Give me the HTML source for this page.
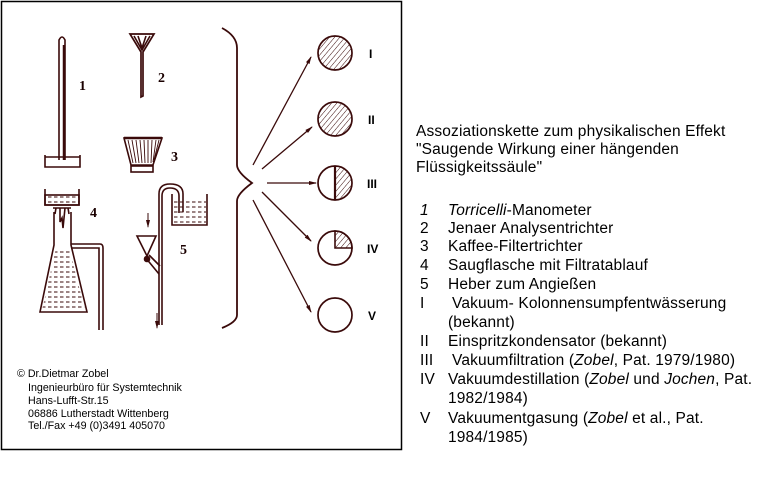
<!DOCTYPE html>
<html><head><meta charset="utf-8"><style>
html,body{margin:0;padding:0;background:#fff;width:769px;height:492px;overflow:hidden}
body{position:relative;font-family:"Liberation Sans",sans-serif}
.t{position:absolute;font-size:15.5px;letter-spacing:0.15px;line-height:18px;color:#000;white-space:nowrap}
.s{position:absolute;font-size:10.7px;line-height:12px;color:#000;white-space:nowrap}
</style></head><body>
<svg width="769" height="492" style="position:absolute;left:0;top:0" xmlns="http://www.w3.org/2000/svg">
<defs>
<pattern id="h" width="4" height="4" patternUnits="userSpaceOnUse" patternTransform="rotate(40)">
<line x1="0" y1="0" x2="0" y2="4" stroke="#3a0a0a" stroke-width="1"/></pattern>
<pattern id="d" width="6" height="5" patternUnits="userSpaceOnUse">
<line x1="0" y1="2" x2="3.5" y2="2" stroke="#3a0a0a" stroke-width="1"/></pattern>
<marker id="a" markerWidth="8" markerHeight="6" refX="7" refY="3" orient="auto" markerUnits="userSpaceOnUse">
<path d="M0,1 L8,3 L0,5z" fill="#3a0a0a"/></marker>
</defs>
<rect x="1.5" y="1.5" width="400" height="448" fill="none" stroke="#000" stroke-width="1.5"/>
<g stroke="#3a0a0a" fill="none" stroke-width="1.6">
<!-- 1 thermometer -->
<path d="M59,160 V40 Q62,34 65,40 V160"/>
<line x1="64" y1="45" x2="64" y2="160" stroke-width="2.5"/>
<path d="M45,155 V167 H80 V155 M45,157 H80"/>
<!-- 2 funnel -->
<path d="M130,34 H154 L143,52 V96 L141,97 V52 Z" stroke-width="1.7"/>
<path d="M134,36 L142,50 L150,36 M138,36 L142,48 L146,36"/>
<!-- 3 filter -->
<path d="M124,138 H162 L153,165 H131 Z"/>
<path d="M128,140 L133,163 M132,140 L136,163 M136,140 L139,163 M140,140 L142,163 M144,140 L145,163 M148,140 L148,163 M152,140 L151,163 M156,140 L153,162 M159,140 L154,160" stroke-width="0.9"/>
<rect x="131" y="166" width="22" height="6"/>
<line x1="124" y1="138" x2="162" y2="138" stroke-width="2.5"/>
<!-- brace -->
<path d="M222,28 Q237,36 237,48 V165 Q237,172 252,183 Q237,194 237,201 V315 Q237,322 222,328" stroke-width="1.8"/>
<!-- arrows -->
<g marker-end="url(#a)" stroke-width="1.3">
<line x1="253" y1="165" x2="311" y2="57"/>
<line x1="262" y1="169" x2="312" y2="127"/>
<line x1="267" y1="183" x2="316" y2="183"/>
<line x1="262" y1="192" x2="311" y2="241"/>
<line x1="253" y1="200" x2="311" y2="312"/>
</g>
<!-- circles -->
<circle cx="335" cy="53" r="17" fill="url(#h)" stroke-width="1.7"/>
<circle cx="335" cy="119" r="17" fill="url(#h)" stroke-width="1.7"/>
<path d="M335,166 A17,17 0 0 1 335,200 Z" fill="url(#h)" stroke="none"/>
<circle cx="335" cy="183" r="17" stroke-width="1.7"/>
<line x1="335" y1="166" x2="335" y2="200" stroke-width="2.2"/>
<path d="M335,231 A17,17 0 0 1 352,248 H335 Z" fill="url(#h)"/>
<circle cx="335" cy="248" r="17" stroke-width="1.7"/>
<circle cx="335" cy="315" r="17" stroke-width="1.7"/>
<!-- 4 flask -->
<rect x="45" y="195" width="34" height="10" fill="url(#d)"/>
<path d="M45,189 V205 H79 V189"/>
<path d="M53,208 H71 M54,212 V245 L40,312 H87 L71,245 V212 M56,208 L55,214 M68,208 L69,214"/>
<path d="M60,208 V222 L62,218 L63,228 L65,208" />
<path d="M56,248 H69 L85,310 H42 Z" fill="url(#d)" stroke="none"/>
<path d="M71,244 H100 Q103,244 103,248 V330 M71,248 H99 V330" />
<!-- 5 siphon -->
<path d="M159,325 V194 Q159,184 170,184 Q183,184 183,194 V212 M162,325 V196 Q162,188 170,188 Q179,188 179,196 V213"/>
<path d="M172,194 V225 H207 V194"/>
<rect x="173" y="199" width="33" height="25" fill="url(#d)" stroke="none"/>
<path d="M137,236 H156 L147,256 Z"/>
<path d="M145,257 L159,274 M149,255 L160,266"/>
<circle cx="147" cy="259" r="2.5" fill="#3a0a0a"/>
<line x1="148" y1="213" x2="148" y2="227" marker-end="url(#a)" stroke-width="1"/>
<line x1="157" y1="313" x2="157" y2="328" marker-end="url(#a)" stroke-width="1"/>
</g>
<g font-family="Liberation Serif,serif" font-weight="bold" font-size="14" fill="#1a0000">
<text x="79" y="90">1</text><text x="158" y="82">2</text><text x="171" y="161">3</text>
<text x="90" y="217">4</text><text x="180" y="254">5</text>
</g>
<g font-family="Liberation Sans,sans-serif" font-weight="bold" font-size="12" fill="#000">
<text x="369" y="58">I</text><text x="368" y="124">II</text><text x="367" y="188">III</text>
<text x="367" y="253">IV</text><text x="368" y="320">V</text>
</g>
</svg>
<div class="s" style="left:17px;top:368px">© Dr.Dietmar Zobel</div>
<div class="s" style="left:28px;top:382px">Ingenieurbüro für Systemtechnik</div>
<div class="s" style="left:28px;top:395px">Hans-Lufft-Str.15</div>
<div class="s" style="left:28px;top:408px">06886 Lutherstadt Wittenberg</div>
<div class="s" style="left:28px;top:420px">Tel./Fax +49 (0)3491 405070</div>

<div class="t" style="left:416px;top:123px">Assoziationskette zum physikalischen Effekt</div>
<div class="t" style="left:416px;top:141px">"Saugende Wirkung einer hängenden</div>
<div class="t" style="left:416px;top:159px">Flüssigkeitssäule"</div>
<div class="t" style="left:420px;top:202px"><i>1</i></div><div class="t" style="left:448px;top:202px"><i>Torricelli</i>-Manometer</div>
<div class="t" style="left:420px;top:220px">2</div><div class="t" style="left:448px;top:220px">Jenaer Analysentrichter</div>
<div class="t" style="left:420px;top:238px">3</div><div class="t" style="left:448px;top:238px">Kaffee-Filtertrichter</div>
<div class="t" style="left:420px;top:257px">4</div><div class="t" style="left:448px;top:257px">Saugflasche mit Filtratablauf</div>
<div class="t" style="left:420px;top:276px">5</div><div class="t" style="left:448px;top:276px">Heber zum Angießen</div>
<div class="t" style="left:420px;top:295px">I</div><div class="t" style="left:452px;top:295px">Vakuum- Kolonnensumpfentwässerung</div>
<div class="t" style="left:448px;top:314px">(bekannt)</div>
<div class="t" style="left:420px;top:333px">II</div><div class="t" style="left:448px;top:333px">Einspritzkondensator (bekannt)</div>
<div class="t" style="left:420px;top:352px">III</div><div class="t" style="left:452px;top:352px">Vakuumfiltration (<i>Zobel</i>, Pat. 1979/1980)</div>
<div class="t" style="left:420px;top:371px">IV</div><div class="t" style="left:448px;top:371px">Vakuumdestillation (<i>Zobel</i> und <i>Jochen</i>, Pat.</div>
<div class="t" style="left:448px;top:390px">1982/1984)</div>
<div class="t" style="left:420px;top:410px">V</div><div class="t" style="left:448px;top:410px">Vakuumentgasung (<i>Zobel</i> et al., Pat.</div>
<div class="t" style="left:448px;top:429px">1984/1985)</div>
</body></html>
